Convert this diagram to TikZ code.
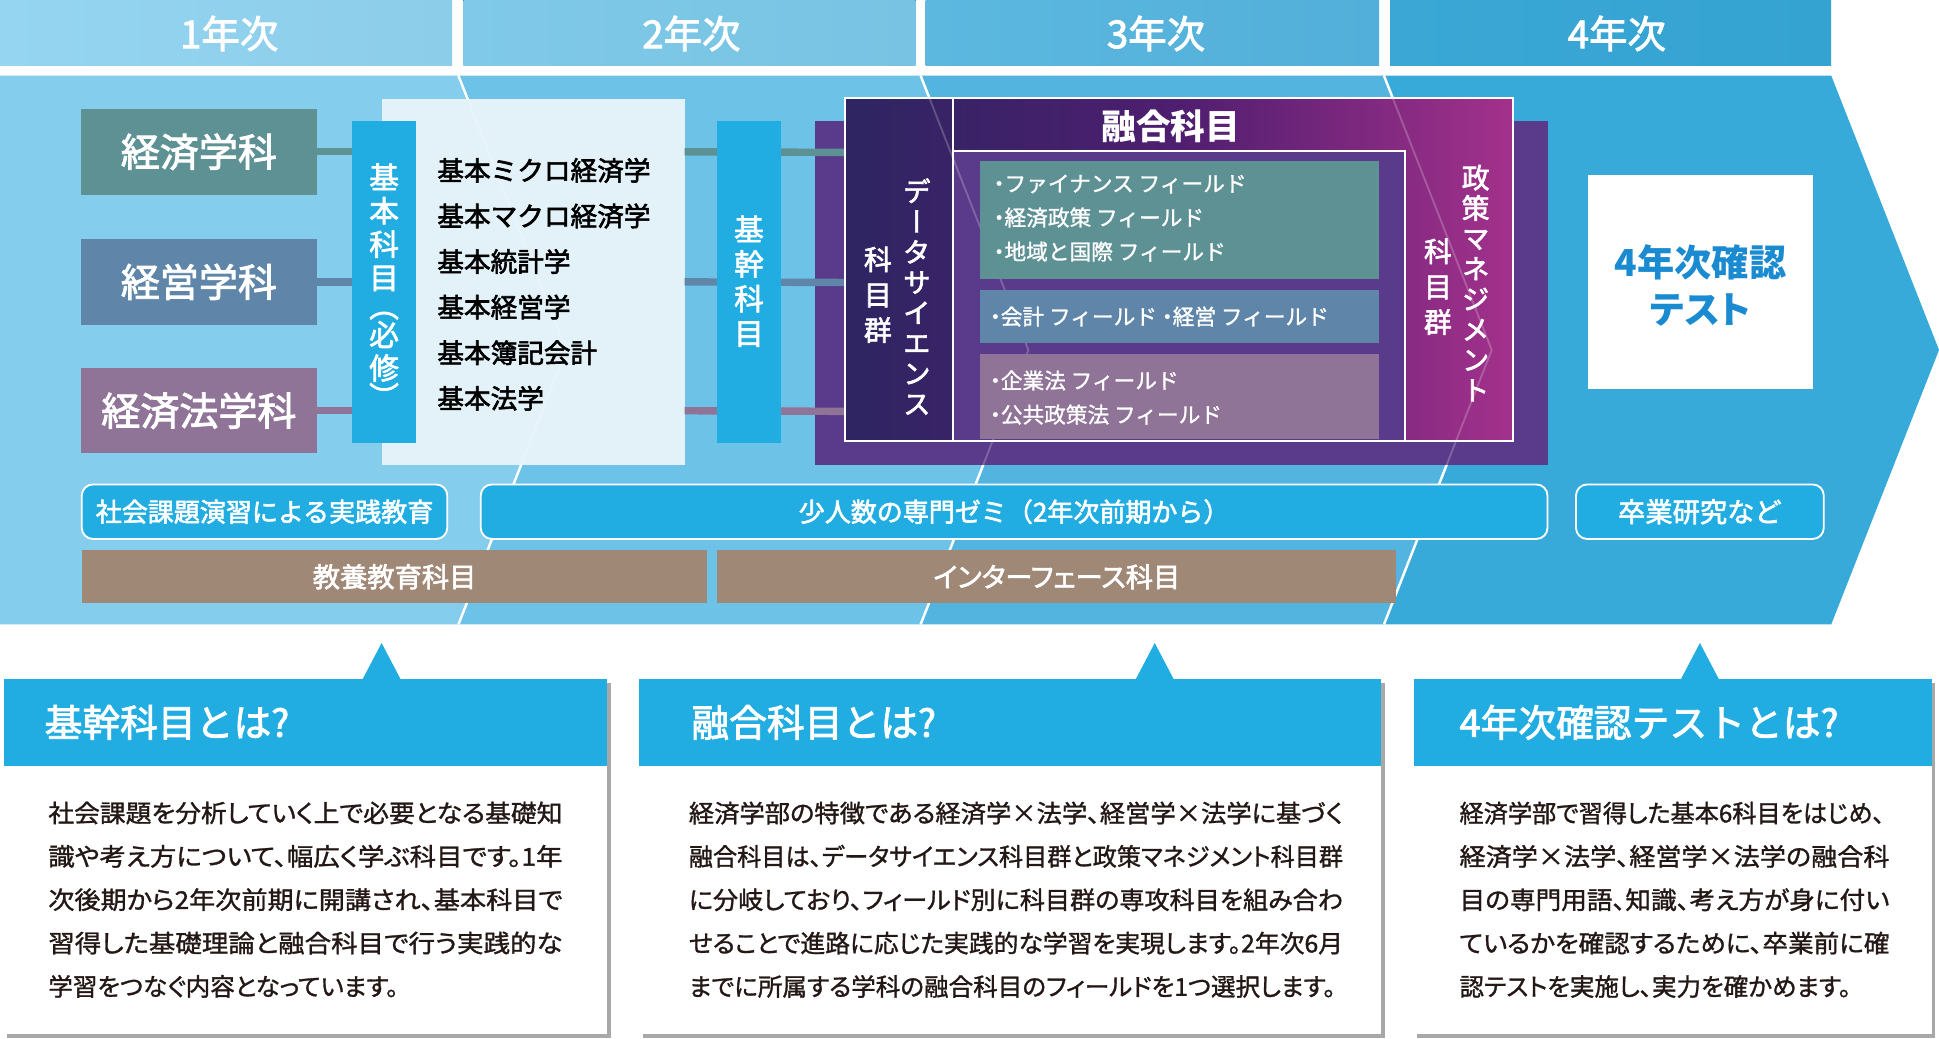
\documentclass[tikz,border=0pt]{standalone}
\usepackage{fontspec}
\usepackage{graphicx}
\setmainfont{Noto Sans CJK JP}
\newfontfamily\jpm{Noto Sans CJK JP}[FakeBold=2.2]
\newfontfamily\jpb{Noto Sans CJK JP}[FakeBold=1.2]
\newfontfamily\jpbp{Noto Sans CJK JP}[RawFeature={+palt},FakeBold=1.2]
\newfontfamily\jpp{Noto Sans CJK JP}[RawFeature={+palt},FakeBold=2.2]
\newfontfamily\jppb{Noto Sans CJK JP}[RawFeature={+palt}]
\newfontfamily\jpv{Noto Sans CJK JP}[RawFeature={+vert},FakeBold=2.2]
\newcommand\jdot{\makebox[0.5em][c]{・}}
\newcommand\jfit[2]{\resizebox{#1}{\height}{#2}}
\definecolor{hAl}{HTML}{95D5F1}
\definecolor{hAr}{HTML}{8CCDE9}
\definecolor{hBl}{HTML}{80C9E8}
\definecolor{hBr}{HTML}{78C3E3}
\definecolor{hCl}{HTML}{5CB8DF}
\definecolor{hCr}{HTML}{52AFD9}
\definecolor{hDl}{HTML}{3AA7D5}
\definecolor{hDr}{HTML}{35A3D2}
\definecolor{rA}{HTML}{84CDED}
\definecolor{rB}{HTML}{6DC2E7}
\definecolor{rC}{HTML}{52B4DF}
\definecolor{rD}{HTML}{38AADA}
\definecolor{cteal}{HTML}{5E9194}
\definecolor{cblue}{HTML}{5F86A9}
\definecolor{cplum}{HTML}{907498}
\definecolor{lightbox}{HTML}{E3F2F9}
\definecolor{cyanbar}{HTML}{22ADE2}
\definecolor{cpurple}{HTML}{5A3A8B}
\definecolor{navy}{HTML}{2E2562}
\definecolor{midpur}{HTML}{4F1E70}
\definecolor{magenta}{HTML}{A3318B}
\definecolor{testblue}{HTML}{1B8BD1}
\definecolor{brown}{HTML}{A08877}
\definecolor{bodytext}{HTML}{231815}
\definecolor{shadowgray}{HTML}{A8A8A8}
\begin{document}
\begin{tikzpicture}[x=1pt,y=-1pt,
  every node/.style={inner sep=0pt,outer sep=0pt},
  hdrtext/.style={text=white,font=\jpm\fontsize{31}{31}\selectfont},
  deptbox/.style={minimum width=191,minimum height=69,text=white,font=\jpm\fontsize{31.5}{31.5}\selectfont},
  vbar/.style={fill=cyanbar,minimum width=52,minimum height=260,anchor=north west},
  vtext/.style={text=white,align=center,anchor=north},
  conn/.style={line width=6},
  fieldbox/.style={minimum width=322,anchor=north west},
  fieldtext/.style={text=white,align=left,anchor=north west,font=\jpb\fontsize{17.5}{27.5}\selectfont},
  roundbox/.style={fill=cyanbar,draw=white,line width=1.5,rounded corners=9,text=white,minimum height=44,font=\jpm\fontsize{21}{21}\selectfont},
  brownbar/.style={fill=brown,text=white,minimum height=43,font=\jpm\fontsize{22}{22}\selectfont},
  panelband/.style={fill=cyanbar,minimum height=70,anchor=north west},
  paneltitle/.style={text=white,anchor=west,font=\jpm\fontsize{30.5}{30.5}\selectfont},
  panelbody/.style={text=bodytext,align=left,anchor=north west,font=\jpbp\fontsize{19.8}{35}\selectfont},
  chev/.style={white,line width=2}
]
\useasboundingbox (0,0) rectangle (1565,838.5);
\fill[white] (0,0) rectangle (1565,838.5);

% year headers
\fill[left color=hAl,right color=hAr] (0,0) rectangle (365,52.5);
\fill[left color=hBl,right color=hBr] (374,0) rectangle (739,52.5);
\fill[left color=hCl,right color=hCr] (747,0) rectangle (1113,52.5);
\fill[left color=hDl,right color=hDr] (1122,0) rectangle (1478,52.5);
\node[hdrtext] (y1) at (185,27) {1年次};
\node[hdrtext] (y2) at (558,27) {2年次};
\node[hdrtext] (y3) at (933,27) {3年次};
\node[hdrtext] (y4) at (1305,27) {4年次};

% big arrow, one region per year
\fill[rA] (0,61) -- (370,61) -- (457,282.5) -- (370,504) -- (0,504) -- cycle;
\fill[rB] (370,61) -- (743,61) -- (830,282.5) -- (743,504) -- (370,504) -- (457,282.5) -- cycle;
\fill[rC] (743,61) -- (1117,61) -- (1204,282.5) -- (1117,504) -- (743,504) -- (830,282.5) -- cycle;
\fill[rD] (1117,61) -- (1478,61) -- (1565,282.5) -- (1478,504) -- (1117,504) -- (1204,282.5) -- cycle;
\draw[chev] (370,61) -- (457,282.5) -- (370,504);
\draw[chev] (743,61) -- (830,282.5) -- (743,504);
\draw[chev] (1117,61) -- (1204,282.5) -- (1117,504);

% departments
\node[deptbox,fill=cteal] (d1) at (160.5,122.5) {経済学科};
\node[deptbox,fill=cblue] (d2) at (160.5,227.5) {経営学科};
\node[deptbox,fill=cplum] (d3) at (160.5,331.5) {経済法学科};

% light box with basic subjects
\node[fill=lightbox,minimum width=244,minimum height=295,anchor=north west] (lb) at (308.5,80) {};
\node[vbar] (kihon) at (284,97.5) {};
\draw[conn,cteal] (d1.east) -- (d1.east -| kihon.west);
\draw[conn,cblue] (d2.east) -- (d2.east -| kihon.west);
\draw[conn,cplum] (d3.east) -- (d3.east -| kihon.west);

% fusion block
\node[fill=cpurple,minimum width=591,minimum height=278,anchor=north west] (back) at (658,97.5) {};
\draw[conn,cteal] (lb.east |- d1.east) -- (682,123);
\draw[conn,cblue] (lb.east |- d2.east) -- (682,228);
\draw[conn,cplum] (lb.east |- d3.east) -- (682,332);
\node[left color=navy,right color=magenta,middle color=midpur,draw=white,line width=1.2,minimum width=539,minimum height=277,anchor=north west] (yugo) at (682,79) {};
\node[draw=white,line width=1.2,minimum width=87,minimum height=277,anchor=north west] (ds) at (682,79) {};
\node[fill=cpurple,draw=white,line width=1.2,minimum width=365,minimum height=234,anchor=north west] (inner) at (769,122) {};

% faint year lines over the boxes
\begin{scope}
\clip (308.5,80) rectangle (552.5,375) (658,79) rectangle (1249,375.5);
\draw[white,opacity=0.22,line width=1.5] (370,61) -- (457,282.5) -- (370,504);
\draw[white,opacity=0.22,line width=1.5] (743,61) -- (830,282.5) -- (743,504);
\draw[white,opacity=0.22,line width=1.5] (1117,61) -- (1204,282.5) -- (1117,504);
\end{scope}

\node[fieldbox,fill=cteal,minimum height=95] (f1) at (791,130) {};
\node[fieldbox,fill=cblue,minimum height=43] (f2) at (791,234) {};
\node[fieldbox,fill=cplum,minimum height=68] (f3) at (791,286) {};
\node[fieldtext] (f1t) at (802,141) {\jdot ファイナンス フィールド\\\jdot 経済政策 フィールド\\\jdot 地域と国際 フィールド};
\node[fieldtext,anchor=west] (f2t) at (799,255.5) {\jdot 会計 フィールド \jdot 経営 フィールド};
\node[fieldtext] (f3t) at (799,299) {\jdot 企業法 フィールド\\\jdot 公共政策法 フィールド};

\node[vbar] (kikan) at (578.5,97.5) {};

% texts
\node[text=black,align=left,anchor=north west,font=\jpm\fontsize{21.5}{36.8}\selectfont] (list) at (353,127.5)
  {基本ミクロ経済学\\基本マクロ経済学\\基本統計学\\基本経営学\\基本簿記会計\\基本法学};
\node[vtext,font=\jpv\fontsize{24}{27}\selectfont] (kihonT) at (310,132) {基\\本\\科\\目\\[-4pt]︵\\[-4pt]必\\修\\[-4pt]︶};
\node[vtext,font=\jpv\fontsize{24}{28}\selectfont] (kikanT) at (604.5,174) {基\\幹\\科\\目};
\node[text=white,font=\bfseries\fontsize{28}{28}\selectfont] (yugoT) at (945,102) {融合科目};
\node[vtext,font=\jpv\fontsize{22.5}{24.5}\selectfont] (dsT1) at (740,144) {デ\\ー\\タ\\サ\\イ\\エ\\ン\\ス};
\node[vtext,font=\jpv\fontsize{22.5}{28.5}\selectfont] (dsT2) at (708.5,199) {科\\目\\群};
\node[vtext,font=\jpv\fontsize{22.5}{24.5}\selectfont] (psT1) at (1191,133) {政\\策\\マ\\ネ\\ジ\\メ\\ン\\ト};
\node[vtext,font=\jpv\fontsize{22.5}{28.5}\selectfont] (psT2) at (1160.5,192.5) {科\\目\\群};

% 4th year test
\node[fill=white,minimum width=181,minimum height=173,anchor=north west] (test) at (1282,141) {};
\node[text=testblue,align=center,font=\jppb\bfseries\fontsize{30}{38}\selectfont] (testT) at (1372.5,230) {4年次確認\\テスト};

% bottom row labels
\node[roundbox,minimum width=295] (r1) at (213.5,413) {社会課題演習による実践教育};
\node[roundbox,minimum width=861] (r2) at (818.5,413) {少人数の専門ゼミ（2年次前期から）};
\node[roundbox,minimum width=200,font=\jpm\fontsize{22}{22}\selectfont] (r3) at (1372,413) {卒業研究など};
\node[brownbar,minimum width=505] (b1) at (318.5,465.5) {教養教育科目};
\node[brownbar,minimum width=548,font=\jpp\fontsize{22}{22}\selectfont] (b2) at (853,465.5) {インターフェース科目};

% explanation panels
\fill[shadowgray] (6,551) rectangle (493,837.5);
\fill[white] (3,548) rectangle (490,834.5);
\node[panelband,minimum width=487] (p1) at (3,548) {};
\fill[cyanbar] (292.5,548.5) -- (308,519) -- (323.5,548.5) -- cycle;
\node[paneltitle] (p1t) at (36,583) {基幹科目とは?};
\node[panelbody] (p1b) at (39,647) {\jfit{415pt}{社会課題を分析していく上で必要となる基礎知}\\\jfit{415pt}{識や考え方について、幅広く学ぶ科目です。1年}\\\jfit{415pt}{次後期から2年次前期に開講され、基本科目で}\\\jfit{415pt}{習得した基礎理論と融合科目で行う実践的な}\\学習をつなぐ内容となっています。};

\fill[shadowgray] (519,551) rectangle (1118,837.5);
\fill[white] (516,548) rectangle (1115,834.5);
\node[panelband,minimum width=599] (p2) at (516,548) {};
\fill[cyanbar] (916.5,548.5) -- (932,519) -- (947.5,548.5) -- cycle;
\node[paneltitle] (p2t) at (558,583) {融合科目とは?};
\node[panelbody] (p2b) at (556,647) {\jfit{528pt}{経済学部の特徴である経済学×法学、経営学×法学に基づく}\\\jfit{528pt}{融合科目は、データサイエンス科目群と政策マネジメント科目群}\\\jfit{528pt}{に分岐しており、フィールド別に科目群の専攻科目を組み合わ}\\\jfit{528pt}{せることで進路に応じた実践的な学習を実現します。2年次6月}\\\jfit{522pt}{までに所属する学科の融合科目のフィールドを1つ選択します。}};

\fill[shadowgray] (1144,551) rectangle (1562,837.5);
\fill[white] (1141,548) rectangle (1559,834.5);
\node[panelband,minimum width=418] (p3) at (1141,548) {};
\fill[cyanbar] (1356.5,548.5) -- (1372,519) -- (1387.5,548.5) -- cycle;
\node[paneltitle] (p3t) at (1178,583) {4年次確認テストとは?};
\node[panelbody] (p3b) at (1178,647) {\jfit{343pt}{経済学部で習得した基本6科目をはじめ、}\\\jfit{347pt}{経済学×法学、経営学×法学の融合科}\\\jfit{347pt}{目の専門用語、知識、考え方が身に付い}\\\jfit{347pt}{ているかを確認するために、卒業前に確}\\認テストを実施し、実力を確かめます。};
\end{tikzpicture}
\end{document}
